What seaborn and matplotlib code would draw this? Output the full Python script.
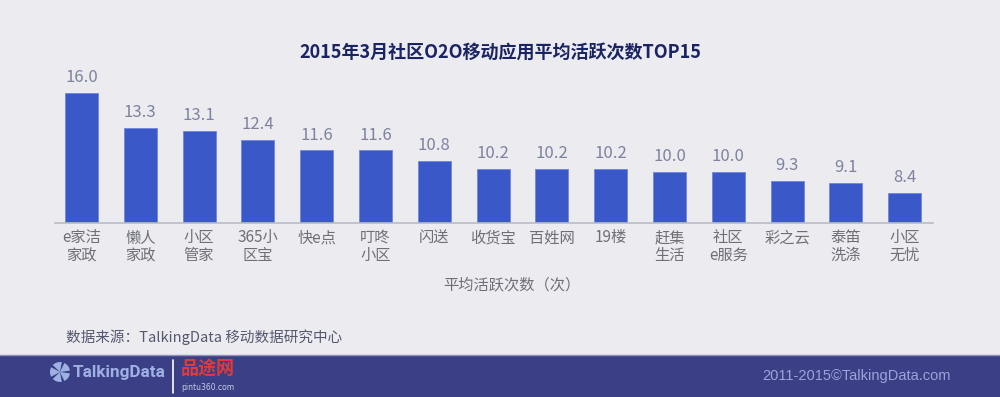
import matplotlib
matplotlib.use("Agg")
import matplotlib.pyplot as plt
import seaborn as sns
import pandas as pd
from matplotlib.patches import Rectangle, Wedge
from matplotlib.lines import Line2D

# data
apps = ["e家洁\n家政", "懒人\n家政", "小区\n管家", "365小\n区宝", "快e点", "叮咚\n小区",
        "闪送", "收货宝", "百姓网", "19楼", "赶集\n生活", "社区\ne服务", "彩之云", "泰笛\n洗涤", "小区\n无忧"]
avg_active = [16.0, 13.3, 13.1, 12.4, 11.6, 11.6, 10.8, 10.2, 10.2, 10.2, 10.0, 10.0, 9.3, 9.1, 8.4]

title = "2015年3月社区O2O移动应用平均活跃次数TOP15"
x_title = "平均活跃次数（次）"
source = "数据来源：TalkingData 移动数据研究中心"
copyright_txt = "2011-2015©TalkingData.com"

BG = "#ebebf0"
BAR = "#3b58c9"
FOOTER = "#3a3f86"

sns.set_theme(style="white")
plt.rcParams["font.family"] = ["Noto Sans CJK SC", "DejaVu Sans"]

df = pd.DataFrame({"app": apps, "value": avg_active})

fig = plt.figure(figsize=(10, 3.97), dpi=100, facecolor=BG)
ax = fig.add_axes([0.055, 0.4395, 0.878, 0.409])
ax.set_facecolor(BG)

sns.barplot(data=df, x="app", y="value", color=BAR, width=0.56, saturation=1,
            edgecolor="#6f86dc", linewidth=0.6, ax=ax)

ax.bar_label(ax.containers[0], fmt="%.1f", padding=5, fontsize=12, color="#7d839e")

ax.set_ylim(6.12, 18.47)
ax.set_xlim(-0.45, 14.48)
ax.set_yticks([])
ax.set_ylabel("")
for s in ["top", "right", "left"]:
    ax.spines[s].set_visible(False)
ax.spines["bottom"].set_color("#bcbcc6")
ax.spines["bottom"].set_linewidth(1.2)
ax.tick_params(axis="x", length=0, pad=5, labelsize=11, labelcolor="#6f6f78")
for t in ax.get_xticklabels():
    t.set_linespacing(1.05)
ax.set_xlabel(x_title, fontsize=11, color="#6f6f78")
ax.xaxis.set_label_coords(0.52, -0.33)

fig.text(0.5, 1 - 52 / 397, title, ha="center", va="center",
         fontsize=13, fontweight="bold", color="#1b2463")
fig.text(0.066, 1 - 337 / 397, source, ha="left", va="center",
         fontsize=10.5, color="#55596f")

# footer band
fig.patches.append(Rectangle((0, 0), 1, 42 / 397, transform=fig.transFigure,
                             facecolor=FOOTER, edgecolor="none", zorder=0))
fig.lines.append(Line2D([0, 1], [42 / 397, 42 / 397], transform=fig.transFigure,
                        color="#8f93b8", lw=1))

# logo icon (in inches so it stays round)
for a in range(0, 360, 72):
    fig.patches.append(Wedge((0.60, 0.25), 0.10, a + 8, a + 64,
                             transform=fig.dpi_scale_trans, facecolor="#9fb0e2",
                             edgecolor="none"))
fig.text(0.073, 1 - 372 / 397, "TalkingData", ha="left", va="center", fontsize=12.3,
         fontweight="bold", color="#9fb0e2", family=["Roboto", "DejaVu Sans"])
fig.lines.append(Line2D([0.173, 0.173], [1 - 360 / 397, 1 - 393 / 397],
                        transform=fig.transFigure, color="white", lw=1.2))
fig.text(0.181, 1 - 368 / 397, "品途网", ha="left", va="center", fontsize=13,
         fontweight="bold", color="#e23a3a")
fig.text(0.181, 1 - 387 / 397, "pintu360.com", ha="left", va="center",
         fontsize=5.5, color="#c8cce6", family=["DejaVu Sans"])
fig.text(0.951, 1 - 376 / 397, copyright_txt, ha="right", va="center",
         fontsize=10.5, color="#9ba4da", family=["Liberation Sans"])

fig.savefig("out.png", dpi=100, facecolor=BG)
